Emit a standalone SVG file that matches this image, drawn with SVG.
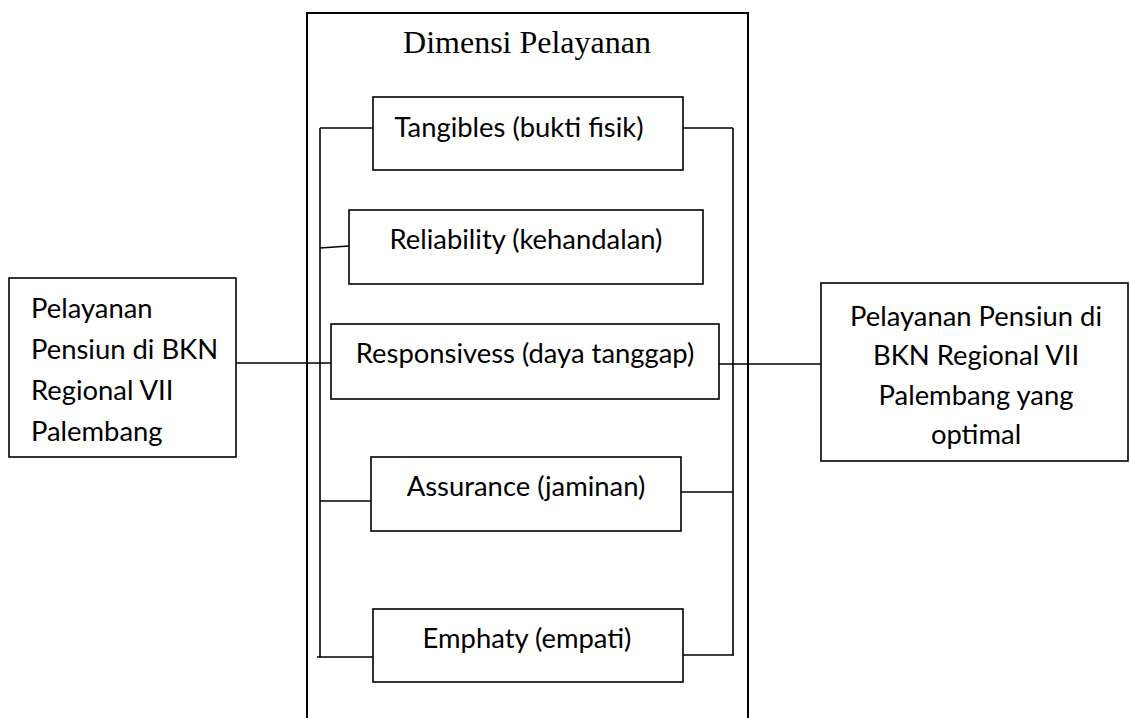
<svg xmlns="http://www.w3.org/2000/svg" width="1130" height="718" viewBox="0 0 1130 718">
<style>
.box{fill:#fff;stroke:#000;stroke-width:1.6}
.outer{fill:none;stroke:#000;stroke-width:2}
.ln{fill:none;stroke:#000;stroke-width:1.6}
.t{font-family:Lato,"Open Sans",sans-serif;font-size:27.4px;fill:#000}
.c{text-anchor:middle}
.serif{font-family:"Liberation Serif","Times New Roman",serif;font-size:32px;fill:#000;text-anchor:middle}
</style>
<rect width="1130" height="718" fill="#fff"/>
<g id="dimensi">
<path class="outer" d="M307,730 V13 H748 V730"/>
<text class="serif" x="527" y="53">Dimensi Pelayanan</text>
</g>
<g id="connectors">
<path class="ln" d="M320,128 V657"/>
<path class="ln" d="M733,128 V655"/>
<path class="ln" d="M320,128 H377"/>
<path class="ln" d="M683,128 H733"/>
<path class="ln" d="M320,248 L349,246"/>
<path class="ln" d="M320,501 H377"/>
<path class="ln" d="M675,492 H733"/>
<path class="ln" d="M317,657 H373"/>
<path class="ln" d="M683,655 H734"/>
<path class="ln" d="M231,363 H333"/>
<path class="ln" d="M717,364 H821"/>
</g>
<g id="tangibles">
<rect class="box" x="373" y="97" width="310" height="73"/>
<text class="t c" x="519" y="137">Tangibles (bukti fisik)</text>
</g>
<g id="reliability">
<rect class="box" x="349" y="210" width="354" height="74"/>
<text class="t c" x="526" y="249">Reliability (kehandalan)</text>
</g>
<g id="responsivess">
<rect class="box" x="331" y="324" width="388" height="75"/>
<text class="t c" x="525" y="363">Responsivess (daya tanggap)</text>
</g>
<g id="assurance">
<rect class="box" x="371" y="457" width="310" height="74"/>
<text class="t c" x="526" y="496">Assurance (jaminan)</text>
</g>
<g id="emphaty">
<rect class="box" x="373" y="609" width="310" height="73"/>
<text class="t c" x="527" y="648">Emphaty (empati)</text>
</g>
<g id="input">
<rect class="box" x="9" y="278" width="227" height="179"/>
<text class="t" x="31" y="318">Pelayanan</text>
<text class="t" x="31" y="359">Pensiun di BKN</text>
<text class="t" x="31" y="400">Regional VII</text>
<text class="t" x="31" y="441">Palembang</text>
</g>
<g id="output">
<rect class="box" x="821" y="283" width="307" height="178"/>
<text class="t c" x="976" y="326">Pelayanan Pensiun di</text>
<text class="t c" x="976" y="365">BKN Regional VII</text>
<text class="t c" x="976" y="405">Palembang yang</text>
<text class="t c" x="976" y="444">optimal</text>
</g>
</svg>
